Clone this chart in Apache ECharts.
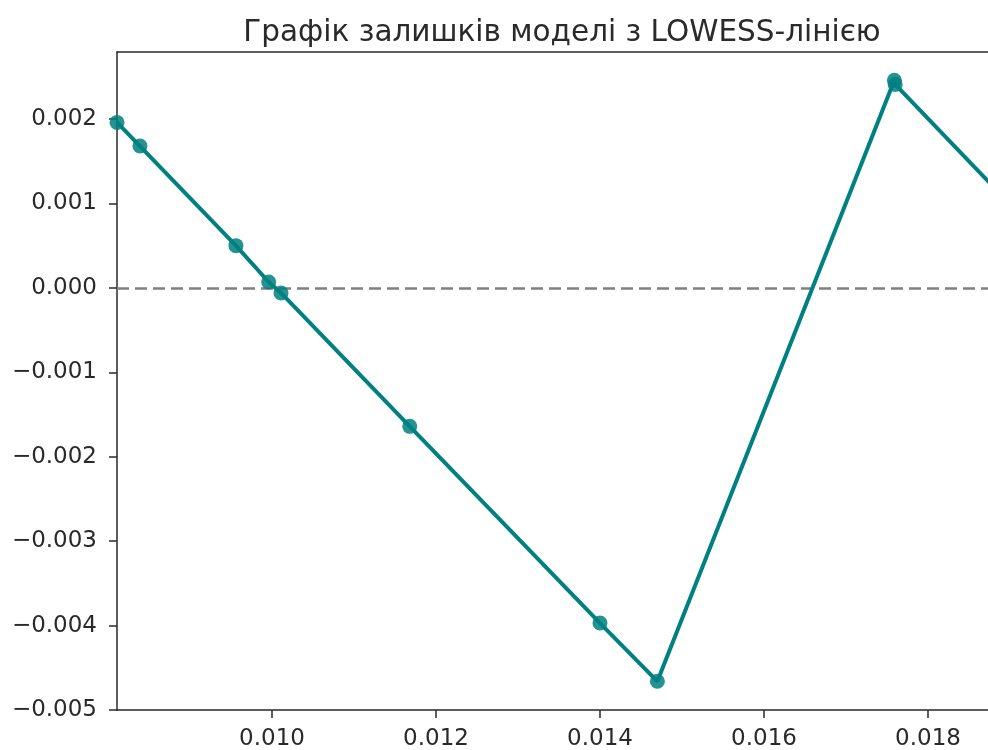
<!DOCTYPE html>
<html>
<head>
<meta charset="utf-8">
<script src="https://cdn.jsdelivr.net/npm/echarts@6/dist/echarts.min.js"></script>
<style>
  html, body { margin: 0; padding: 0; background: #fff; }
  #chart { width: 988px; height: 750px; }
</style>
</head>
<body>
<div id="chart"></div>
<script>
// Fitted values (x) and residuals (y) along the LOWESS curve
const fittedValues = [0.00811, 0.00839, 0.00956, 0.00996, 0.01011, 0.01168, 0.01400, 0.01470, 0.01759, 0.01760, 0.01920];
const residuals    = [0.00196, 0.00168, 0.00050, 0.00007, -0.00006, -0.00164, -0.00397, -0.00466, 0.00246, 0.00241, 0.00079];

const xTicks = [0.010, 0.012, 0.014, 0.016, 0.018];
const yTicks = [-0.005, -0.004, -0.003, -0.002, -0.001, 0.000, 0.001, 0.002];

// Visible window: the plot runs on past the right edge of the page
const xRange = [0.00811, 0.018732];
const yRange = [-0.005, 0.002794];

const teal = '#008080';
const ink = '#2a2a2a';
const font = 'DejaVu Sans';

const fmtY = v => (v < 0 ? '\u2212' + Math.abs(v).toFixed(3) : v.toFixed(3));

const chart = echarts.init(document.getElementById('chart'), null, { renderer: 'canvas' });
chart.setOption({
  animation: false,
  backgroundColor: '#fff',
  title: {
    text: 'Графік залишків моделі з LOWESS-лінією',
    left: 557,
    textAlign: 'center',
    top: 13,
    textStyle: { fontFamily: font, fontSize: 29.5, fontWeight: 'normal', color: ink }
  },
  grid: {
    left: 117, right: 0, top: 52, bottom: 40,
    containLabel: false,
    outerBoundsMode: 'none',
    show: false
  },
  xAxis: [{
    type: 'value',
    min: xRange[0], max: xRange[1],
    splitLine: { show: false },
    axisLine: { show: true, onZero: false, lineStyle: { color: ink, width: 1.5 } },
    axisTick: { show: true, customValues: xTicks, length: 8, lineStyle: { color: ink, width: 1.5 } },
    axisLabel: {
      customValues: xTicks, margin: 18,
      formatter: v => v.toFixed(3),
      fontFamily: font, fontSize: 23, color: ink
    }
  }, {
    // top frame line
    type: 'value', position: 'top',
    min: xRange[0], max: xRange[1],
    splitLine: { show: false },
    axisLine: { show: true, onZero: false, lineStyle: { color: ink, width: 1.5 } },
    axisTick: { show: false },
    axisLabel: { show: false }
  }],
  yAxis: {
    type: 'value',
    min: yRange[0], max: yRange[1],
    splitLine: { show: false },
    axisLine: { show: true, onZero: false, lineStyle: { color: ink, width: 1.5 } },
    axisTick: { show: true, customValues: yTicks, length: 8, lineStyle: { color: ink, width: 1.5 } },
    axisLabel: {
      customValues: yTicks, margin: 20,
      formatter: fmtY,
      fontFamily: font, fontSize: 23, color: ink
    }
  },
  series: [{
    type: 'line',
    xAxisIndex: 0,
    data: fittedValues.map((x, i) => [x, residuals[i]]),
    symbol: 'circle',
    symbolSize: 15,
    showAllSymbol: true,
    clip: true,
    lineStyle: { color: teal, width: 4 },
    itemStyle: { color: 'rgba(0,128,128,0.85)' },
    z: 3,
    markLine: {
      silent: true,
      symbol: 'none',
      label: { show: false },
      lineStyle: { color: '#808080', type: [12, 6], width: 2.5 },
      data: [{ yAxis: 0 }],
      z: 2
    }
  }]
});
</script>
</body>
</html>
